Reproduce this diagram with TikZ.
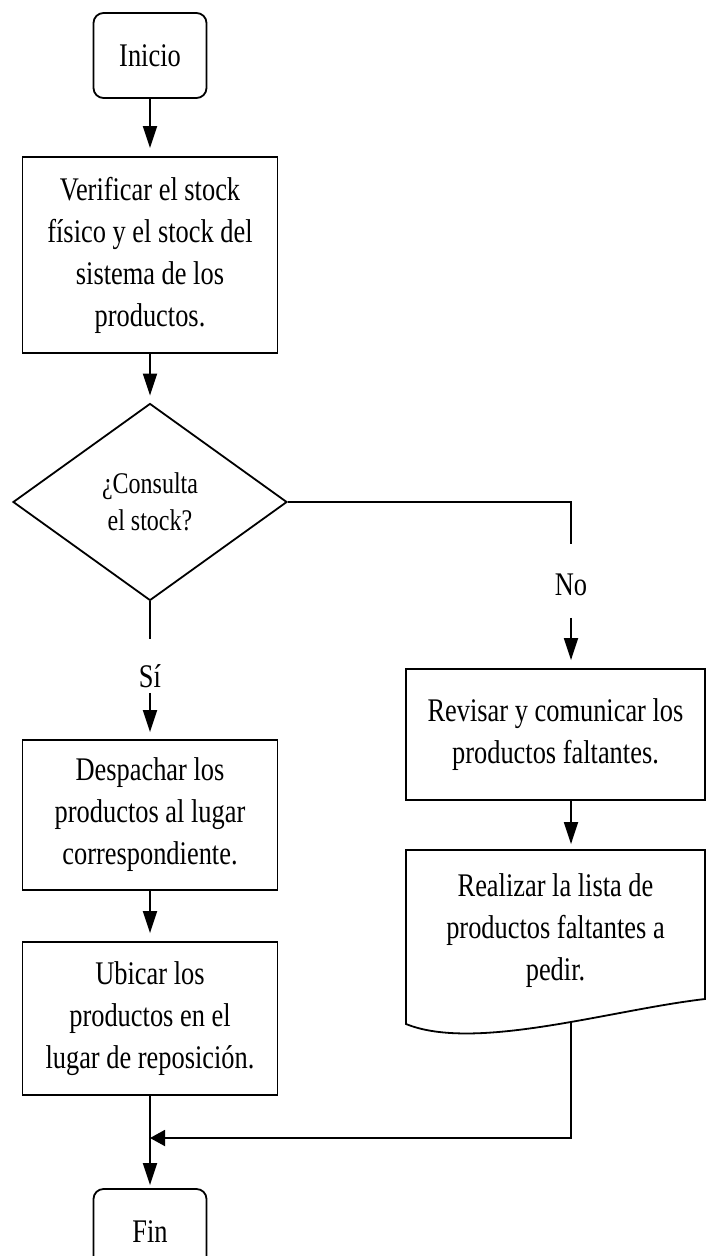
\documentclass[tikz,border=0pt]{standalone}
\usepackage{fontspec}
\setmainfont{Liberation Serif}[FakeStretch=0.8]
\usetikzlibrary{arrows.meta,shapes.geometric}

\begin{document}
\begin{tikzpicture}[x=1pt,y=-1pt,
  line width=1.8pt,
  boxtext/.style={font=\fontsize{33}{42}\selectfont, align=center, inner sep=0pt},
  terminal/.style={draw, rounded corners=10pt, minimum width=113pt, minimum height=85pt, boxtext},
  process/.style={draw, boxtext, minimum width=255pt},
  sideproc/.style={draw, boxtext, minimum width=299pt},
  decision/.style={draw, diamond, inner sep=0pt, minimum width=274pt, minimum height=197pt,
                   font=\fontsize{30}{37}\selectfont, align=center},
  branchlabel/.style={font=\fontsize{33}{42}\selectfont, inner sep=0pt},
  flow/.style={-{Triangle[length=22pt,width=14pt]}, shorten >=8pt},
  joinflow/.style={-{Triangle[length=15pt,width=16pt]}}
]
\useasboundingbox (0,0) rectangle (707,1256);
\clip (0,0) rectangle (707,1256);

% main column
\node[terminal] (inicio) at (150,55.5) {Inicio};
\node[process, minimum height=196pt] (verificar) at (150,255)
  {Verificar el stock\\físico y el stock del\\sistema de los\\productos.};
\node[decision] (decision) at (150,502) {¿Consulta\\el stock?};
\node[branchlabel, text height=47pt, text depth=5pt] (si) at (150,666) {Sí};
\node[process, minimum height=150pt] (despachar) at (150,815)
  {Despachar los\\productos al lugar\\correspondiente.};
\node[process, minimum height=153pt] (ubicar) at (150,1018.5)
  {Ubicar los\\productos en el\\lugar de reposición.};
\node[terminal] (fin) at (150,1231.5) {Fin};

% right branch
\node[branchlabel, text height=50pt, text depth=22pt] (no) at (571,581) {No};
\node[sideproc, minimum height=131pt] (revisar) at (555.5,734.5)
  {Revisar y comunicar los\\productos faltantes.};
\node[boxtext, minimum width=299pt, minimum height=162pt] (realizar) at (555.5,931)
  {Realizar la lista de\\productos faltantes a\\pedir.};
% document outline with wavy bottom edge
\draw (406,850) -- (705,850) -- (705,999)
  .. controls (610,1010) and (475,1052) .. (406,1024) -- cycle;
\coordinate (docout) at (571,1021);
\coordinate (join) at (150,1138);

% connectors
\draw[flow] (inicio.south) -- (verificar.north);
\draw[flow, shorten >=7pt] (verificar.south) -- (decision.north);
\draw (decision.south) -- (si.north);
\draw[flow, shorten >=7pt] (si.south) -- (despachar.north);
\draw[flow] (despachar.south) -- (ubicar.north);
\draw[flow, shorten >=3pt] (ubicar.south) -- (fin.north);
\draw (decision.east) -| (no.north);
\draw[flow] (no.south) -- (no.south |- revisar.north);
\draw[flow, shorten >=5pt] (revisar.south -| no) -- (realizar.north -| no);
\draw[joinflow] (docout) |- (join);
\end{tikzpicture}
\end{document}
